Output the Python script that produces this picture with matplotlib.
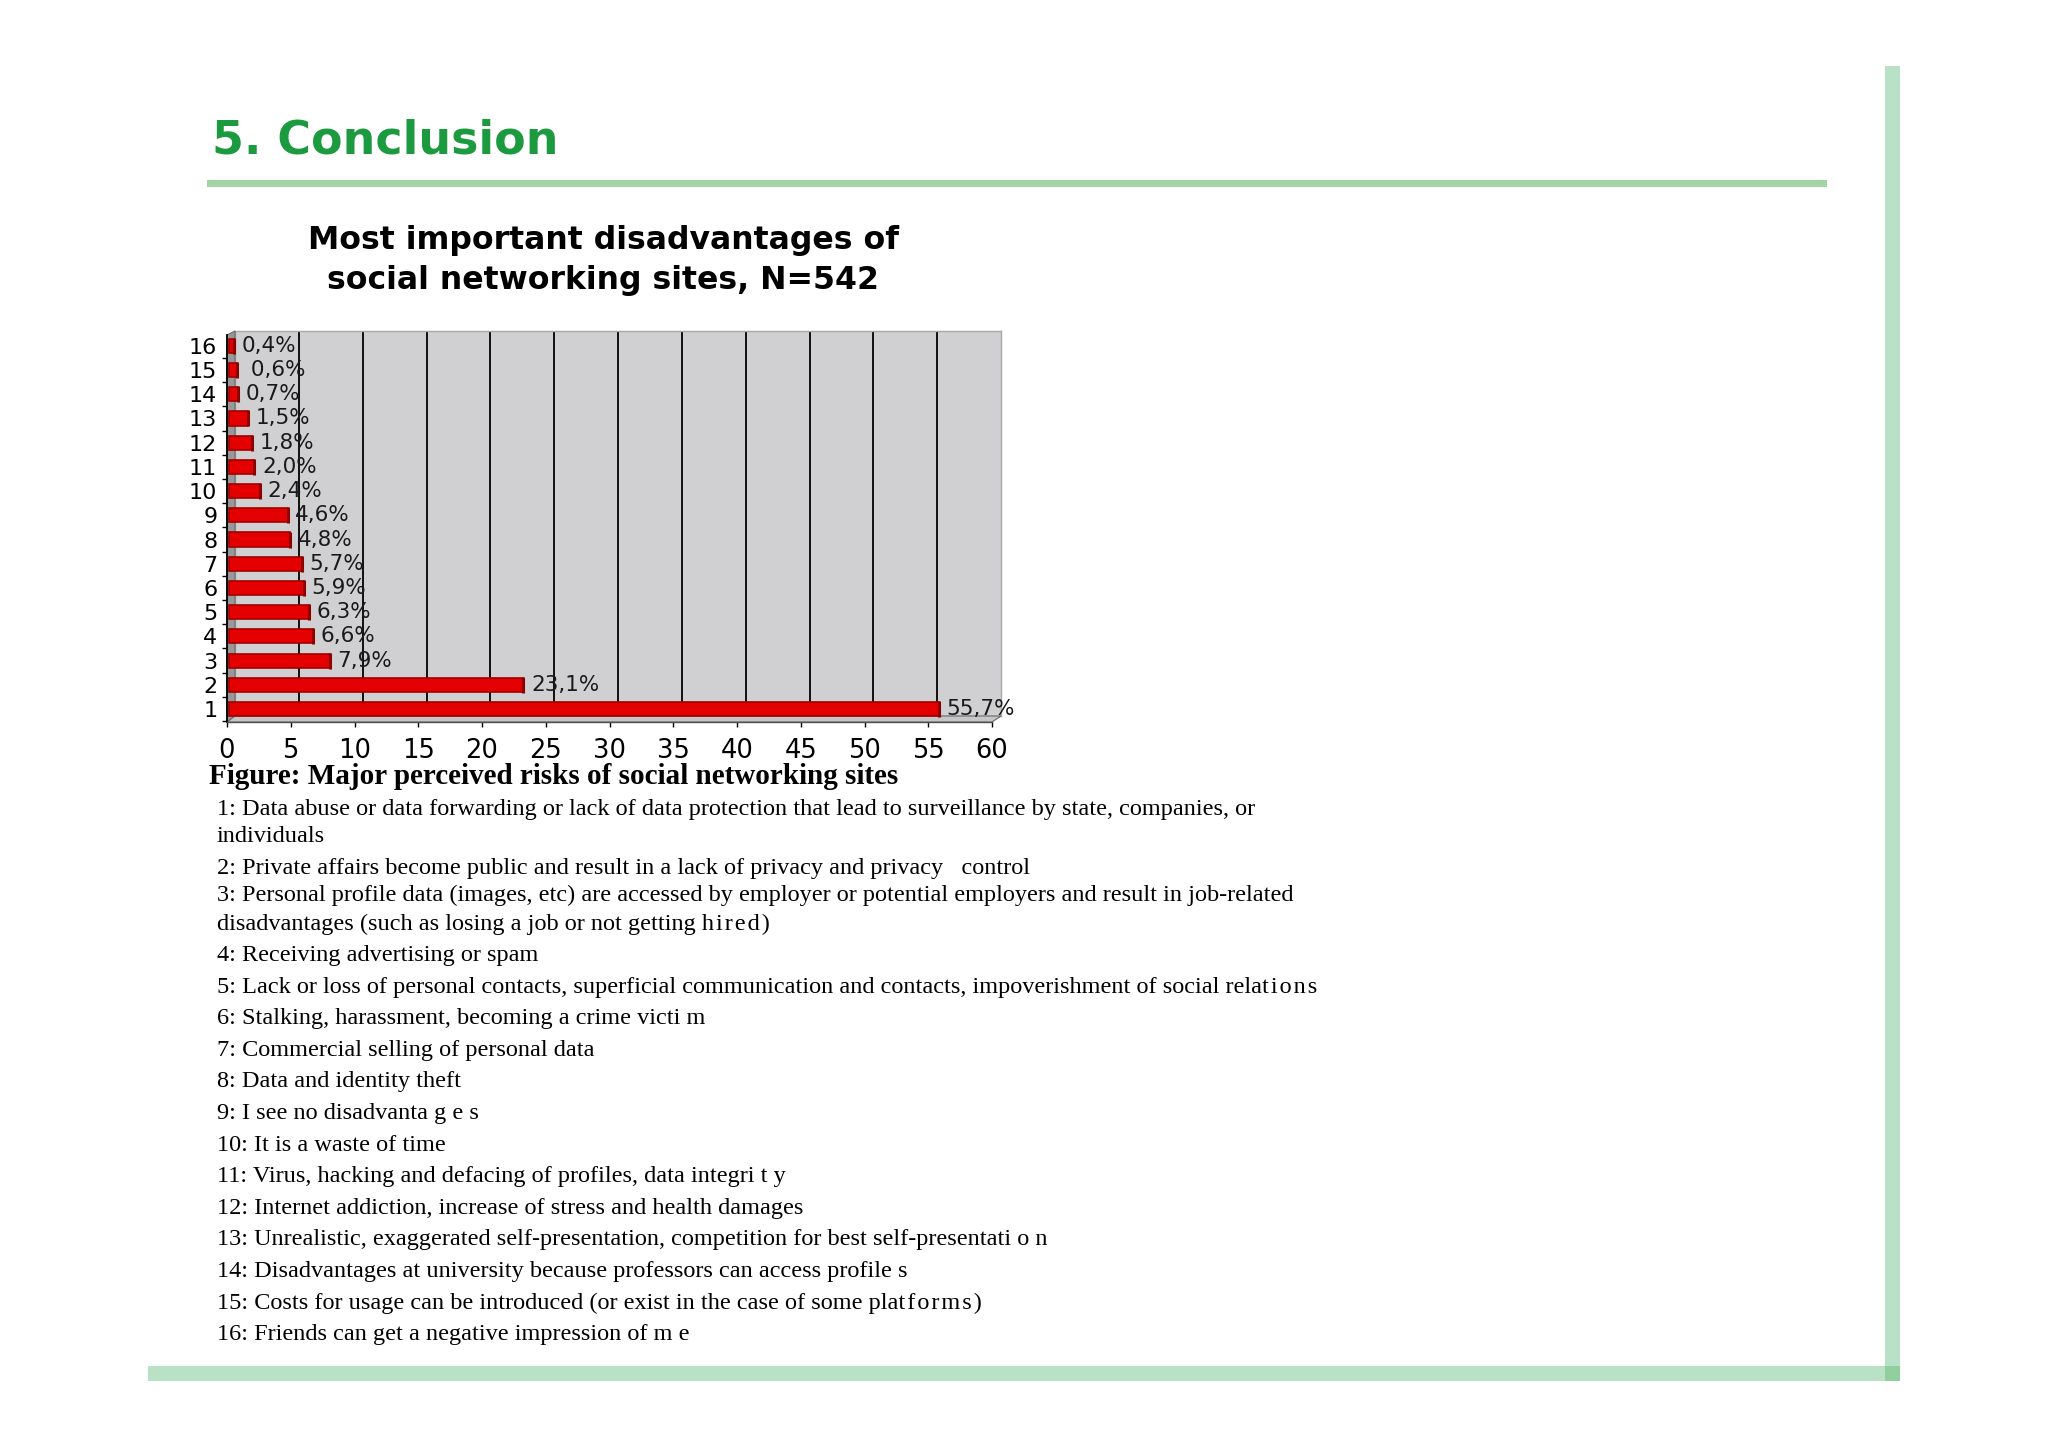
import matplotlib.pyplot as plt
from matplotlib.patches import Polygon, Rectangle

W, H = 2048, 1447

# ---- data ----
items = list(range(1, 17))
shares = [55.7, 23.1, 7.9, 6.6, 6.3, 5.9, 5.7, 4.8, 4.6, 2.4, 2.0, 1.8, 1.5, 0.7, 0.6, 0.4]
share_labels = ["55,7%", "23,1%", "7,9%", "6,6%", "6,3%", "5,9%", "5,7%", "4,8%",
                "4,6%", "2,4%", "2,0%", "1,8%", "1,5%", "0,7%", " 0,6%", "0,4%"]
x_ticks = list(range(0, 61, 5))

heading = "5. Conclusion"
chart_title = ["Most important disadvantages of", "social networking sites, N=542"]
caption = "Figure: Major perceived risks of social networking sites"

hs = "\u200a"  # hair space, mimics the letter spacing of the source slide
legend_lines = [
    "1: Data abuse or data forwarding or lack of data protection that lead to surveillance by state, companies, or",
    "individuals",
    "2: Private affairs become public and result in a lack of privacy and privacy   control",
    "3: Personal profile data (images, etc) are accessed by employer or potential employers and result in job-related",
    "disadvantages (such as losing a job or not getting " + hs.join("hired)"),
    "4: Receiving advertising or spam",
    "5: Lack or loss of personal contacts, superficial communication and contacts, impoverishment of social relat"
    + hs + hs.join("ions"),
    "6: Stalking, harassment, becoming a crime victi m",
    "7: Commercial selling of personal data",
    "8: Data and identity theft",
    "9: I see no disadvanta g e s",
    "10: It is a waste of time",
    "11: Virus, hacking and defacing of profiles, data integri t y",
    "12: Internet addiction, increase of stress and health damages",
    "13: Unrealistic, exaggerated self-presentation, competition for best self-presentati o n",
    "14: Disadvantages at university because professors can access profile s",
    "15: Costs for usage can be introduced (or exist in the case of some plat" + hs + hs.join("forms)"),
    "16: Friends can get a negative impression of m e",
]

# ---- layout (pixel positions on the page) ----
line_y = [808, 835, 867, 894, 923] + [954 + 31.6 * k for k in range(13)]
serif = ["Liberation Serif", "DejaVu Serif"]


def fx(x):
    return x / W


def fy(y):
    return 1 - y / H


fig = plt.figure(figsize=(W / 100, H / 100), dpi=100)
fig.patch.set_facecolor("white")

# page decoration
fig.add_artist(Rectangle((fx(207), fy(187)), fx(1827) - fx(207), 7 / H,
                         transform=fig.transFigure, color="#a2d5a2", lw=0))
fig.add_artist(Rectangle((fx(1885), fy(1381)), 15 / W, (1381 - 66) / H,
                         transform=fig.transFigure, color="#b9e1c5", lw=0))
fig.add_artist(Rectangle((fx(148), fy(1381)), (1900 - 148) / W, 15 / H,
                         transform=fig.transFigure, color="#b9e1c5", lw=0))
fig.add_artist(Rectangle((fx(1885), fy(1381)), 15 / W, 15 / H,
                         transform=fig.transFigure, color="#92cf9e", lw=0))

fig.text(fx(212), fy(153), heading, fontsize=33, fontweight="bold",
         color="#1c9a3f", family="DejaVu Sans", va="baseline", ha="left")

fig.text(fx(603), fy(241), chart_title[0], fontsize=22.7, fontweight="bold",
         color="black", family="DejaVu Sans", va="center", ha="center")
fig.text(fx(603), fy(281), chart_title[1], fontsize=22.7, fontweight="bold",
         color="black", family="DejaVu Sans", va="center", ha="center")

# back wall
wall = fig.add_axes([fx(235), fy(716), (1001 - 235) / W, (716 - 331) / H])
wall.set_facecolor("#d0d0d2")
wall.set_xlim(0, 60)
wall.set_ylim(0, 1)
for v in x_ticks[1:-1]:
    wall.axvline(v, color="black", lw=1.3)
wall.set_xticks([])
wall.set_yticks([])
for s in wall.spines.values():
    s.set_color("#a8a8a8")
    s.set_linewidth(1)

# side wall and floor
fig.add_artist(Polygon([(fx(227), fy(335)), (fx(235), fy(331)), (fx(235), fy(716)), (fx(227), fy(722))],
                       closed=True, transform=fig.transFigure, facecolor="#98989a",
                       edgecolor="#6a6a6a", lw=0.8, zorder=1))
fig.add_artist(Polygon([(fx(227), fy(722)), (fx(992), fy(722)), (fx(1001), fy(716)), (fx(235), fy(716))],
                       closed=True, transform=fig.transFigure, facecolor="#c6c6c8",
                       edgecolor="#6a6a6a", lw=0.8, zorder=1))

# front axes with bars
ax = fig.add_axes([fx(227), fy(722), (992 - 227) / W, (722 - 335) / H])
ax.set_zorder(2)
ax.patch.set_alpha(0)
ax.set_xlim(0, 60)
ax.set_ylim(0.46, 16.45)

ax.barh(items, shares, left=0.15, height=0.58, color="#e40000", edgecolor="#a00000", lw=1.2, zorder=3)
# darker end cap of the 3D bars
ax.scatter([v + 0.15 for v in shares], items, marker="|", s=140, color="#8c0000", lw=2.2, zorder=4)
for i, v, lab in zip(items, shares, share_labels):
    ax.text(v + 0.75, i, lab, va="center", ha="left", fontsize=15.5,
            color="#1a1a1a", family="DejaVu Sans", zorder=5)

ax.set_yticks(items)
ax.set_yticklabels([str(i) for i in items], family="DejaVu Sans", fontsize=16)
ax.set_yticks([i - 0.5 for i in items], minor=True)
ax.tick_params(axis="y", which="major", length=0, pad=7)
ax.tick_params(axis="y", which="minor", length=3.6, width=1, direction="out", color="black")
ax.set_xticks(x_ticks)
ax.set_xticklabels([str(v) for v in x_ticks], family="DejaVu Sans", fontsize=18.5)
ax.tick_params(axis="x", length=3.6, width=1, direction="out", pad=8, color="black")

for s in ["top", "right"]:
    ax.spines[s].set_visible(False)
ax.spines["left"].set_color("black")
ax.spines["left"].set_linewidth(1.3)
ax.spines["bottom"].set_color("#505050")
ax.spines["bottom"].set_linewidth(1)

# caption and legend text
fig.text(fx(209), fy(776), caption, fontsize=21, fontweight="bold",
         family=serif, va="center", ha="left")

for y, line in zip(line_y, legend_lines):
    fig.text(fx(217), fy(y + 7), line, fontsize=17.5,
             family=serif, va="baseline", ha="left")

fig.savefig("out.png", dpi=100)
